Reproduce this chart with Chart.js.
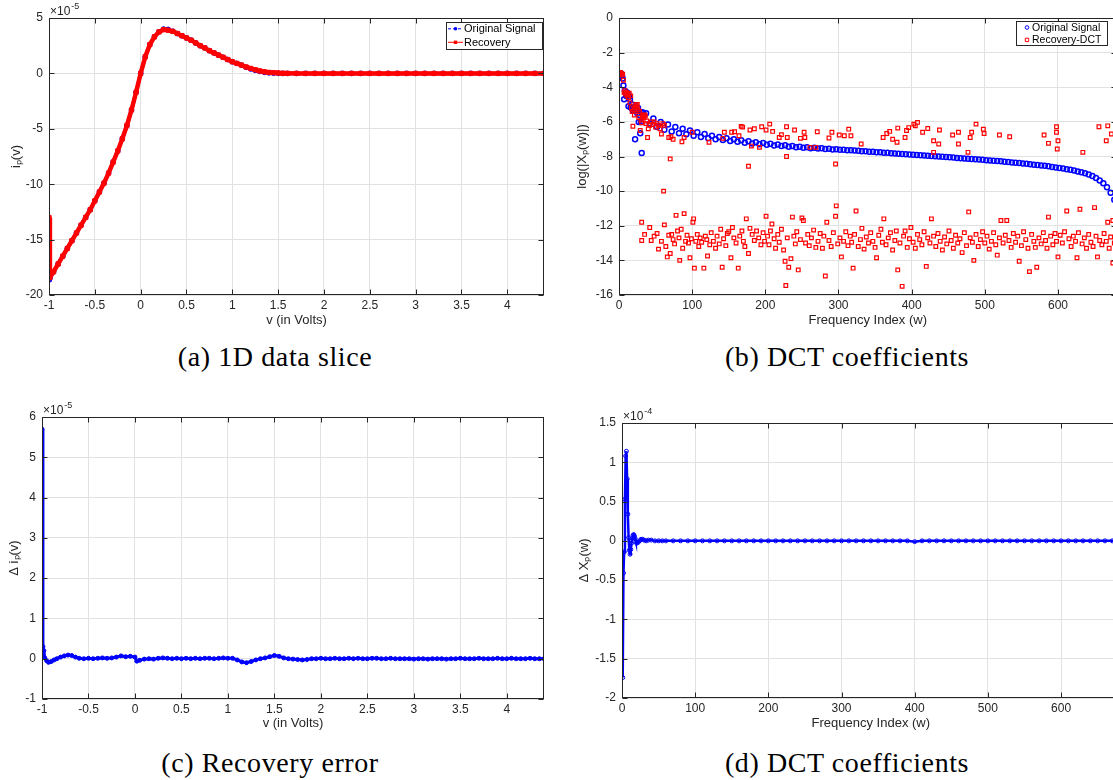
<!DOCTYPE html>
<html>
<head>
<meta charset="utf-8">
<script src="https://cdn.jsdelivr.net/npm/chart.js@4.4.0/dist/chart.umd.min.js"></script>
<style>
html, body { margin: 0; padding: 0; background: #fff; width: 1113px; height: 780px; overflow: hidden; }
canvas { position: absolute; }
.cap { position: absolute; font-family: "Liberation Serif", "Times New Roman", serif; font-size: 28px;
       letter-spacing: 0.6px; line-height: 28px; color: #000; white-space: nowrap; transform: translateX(-50%); }
</style>
</head>
<body>
<canvas id="pa" width="560" height="340" style="left:0;top:0;width:560px;height:340px"></canvas>
<canvas id="pb" width="570" height="340" style="left:560px;top:0;width:570px;height:340px"></canvas>
<canvas id="pc" width="560" height="340" style="left:0;top:400px;width:560px;height:340px"></canvas>
<canvas id="pd" width="570" height="340" style="left:560px;top:400px;width:570px;height:340px"></canvas>
<div class="cap" style="left:275px;top:343px">(a) 1D data slice</div>
<div class="cap" style="left:847px;top:343px">(b) DCT coefficients</div>
<div class="cap" style="left:270px;top:749px">(c) Recovery error</div>
<div class="cap" style="left:847px;top:749px">(d) DCT coefficients</div>
<script>
// (a) 1D data slice, current in units of 1e-5
const vA = [-1, -0.99, -0.95, -0.9, -0.85, -0.8, -0.75, -0.7, -0.65, -0.6,
  -0.55, -0.5, -0.45, -0.4, -0.35, -0.3, -0.25, -0.2, -0.15, -0.1,
  -0.05, 0, 0.05, 0.1, 0.15, 0.2, 0.25, 0.3, 0.35, 0.4,
  0.45, 0.5, 0.55, 0.6, 0.65, 0.7, 0.75, 0.8, 0.85, 0.9,
  0.95, 1, 1.05, 1.1, 1.15, 1.2, 1.25, 1.3, 1.35, 1.4,
  1.45, 1.5, 1.55, 1.6, 1.7, 1.8, 1.9, 2, 2.1, 2.2,
  2.3, 2.4, 2.5, 2.6, 2.7, 2.8, 2.9, 3, 3.1, 3.2,
  3.3, 3.4, 3.5, 3.6, 3.7, 3.8, 3.9, 4, 4.1, 4.2,
  4.3, 4.4];
const ipOrig = [-18.65, -18.5, -17.9, -17.2, -16.5, -15.8, -15.1, -14.4, -13.7, -13.0,
  -12.3, -11.5, -10.7, -9.9, -9.0, -8.0, -7.0, -5.9, -4.7, -3.3,
  -1.7, 0.0, 1.5, 2.6, 3.3, 3.75, 4.0, 3.97, 3.8, 3.6,
  3.4, 3.2, 3.0, 2.75, 2.5, 2.3, 2.05, 1.85, 1.65, 1.45,
  1.25, 1.05, 0.9, 0.75, 0.55, 0.4, 0.28, 0.18, 0.1, 0.05,
  0.02, 0.01, 0, 0, 0, 0, 0, 0, 0, 0,
  0, 0, 0, 0, 0, 0, 0, 0, 0, 0,
  0, 0, 0, 0, 0, 0, 0, 0, 0, 0,
  0, 0];
const ipRec = [-13.0, -18.4, -17.9, -17.2, -16.5, -15.8, -15.1, -14.4, -13.7, -13.0,
  -12.3, -11.5, -10.7, -9.9, -9.0, -8.0, -7.0, -5.9, -4.7, -3.3,
  -1.7, 0.0, 1.5, 2.6, 3.3, 3.75, 3.95, 3.9, 3.8, 3.6,
  3.4, 3.2, 3.0, 2.75, 2.5, 2.3, 2.05, 1.85, 1.65, 1.45,
  1.25, 1.05, 0.9, 0.75, 0.58, 0.45, 0.33, 0.22, 0.14, 0.09,
  0.06, 0.04, 0.02, 0.01, 0, 0, 0, 0, 0, 0,
  0, 0, 0, 0, 0, 0, 0, 0, 0, 0,
  0, 0, 0, 0, 0, 0, 0, 0, 0, 0,
  0, 0];

// (b) DCT coefficients, log magnitude
const wOrig = [1, 2, 3, 4, 5, 6, 7, 8, 9, 10,
  11, 12, 13, 14, 15, 16, 17, 18, 19, 20,
  21, 22, 23, 24, 25, 26, 27, 28, 29, 30,
  31, 32, 33, 34,
  37, 42, 47, 52, 57, 62, 67, 72, 77, 82,
  87, 92, 97, 102, 107, 112, 117, 122, 127, 132,
  137, 142, 147, 152, 157, 162, 167, 172, 177, 182,
  187, 192, 197, 202, 207, 212, 217, 222, 227, 232,
  237, 242, 247, 252, 257, 262, 267, 272, 277, 282,
  287, 292, 297, 302, 307, 312, 317, 322, 327, 332,
  337, 342, 347, 352, 357, 362, 367, 372, 377, 382,
  387, 392, 397, 402, 407, 412, 417, 422, 427, 432,
  437, 442, 447, 452, 457, 462, 467, 472, 477, 482,
  487, 492, 497, 502, 507, 512, 517, 522, 527, 532,
  537, 542, 547, 552, 557, 562, 567, 572, 577, 582,
  587, 592, 597, 602, 607, 612, 617, 622, 627, 632,
  637, 642, 647, 652, 657, 662, 667, 672, 677];
const logOrig = [-3.4, -3.25, -3.2, -3.3, -3.5, -3.9, -4.7, -4.2, -4.3, -4.5,
  -4.3, -4.4, -5.1, -4.55, -4.7, -5.15, -5.2, -5.0, -5.35, -5.25,
  -5.15, -7.0, -5.1, -5.3, -5.5, -5.2, -6.0, -5.6, -6.65, -6.0,
  -7.8, -5.45, -5.5, -5.6,
  -5.5, -6.1, -5.8, -6.3, -6.0, -6.45, -6.15, -6.55, -6.3, -6.65,
  -6.4, -6.72, -6.5, -6.8, -6.6, -6.87, -6.7, -6.95, -6.8, -7.0,
  -6.87, -7.05, -6.95, -7.1, -7.0, -7.15, -7.06, -7.2, -7.12, -7.25,
  -7.17, -7.29, -7.22, -7.32, -7.27, -7.36, -7.31, -7.4, -7.35, -7.43,
  -7.39, -7.46, -7.43, -7.49, -7.46, -7.52, -7.49, -7.54, -7.52, -7.57,
  -7.55, -7.59, -7.58, -7.61, -7.61, -7.64, -7.64, -7.66, -7.67, -7.69,
  -7.7, -7.72, -7.73, -7.75, -7.76, -7.78, -7.79, -7.81, -7.82, -7.84,
  -7.85, -7.87, -7.88, -7.9, -7.91, -7.93, -7.94, -7.96, -7.97, -7.99,
  -8.0, -8.02, -8.03, -8.05, -8.06, -8.08, -8.1, -8.11, -8.13, -8.14,
  -8.16, -8.18, -8.19, -8.21, -8.23, -8.25, -8.26, -8.28, -8.3, -8.32,
  -8.34, -8.36, -8.38, -8.4, -8.42, -8.45, -8.47, -8.49, -8.52, -8.54,
  -8.57, -8.6, -8.63, -8.66, -8.69, -8.73, -8.77, -8.81, -8.86, -8.91,
  -8.97, -9.04, -9.13, -9.24, -9.38, -9.55, -9.78, -10.1, -10.5];

// recovered coefficients: large ones (near the original) and the noise floor
const recHiW = [1, 2, 3, 4, 5, 6, 7, 8, 9, 10,
  11, 12, 13, 14, 15, 16, 17, 18, 19, 20,
  21, 22, 23, 24, 25, 26, 27, 28, 29, 30,
  31, 32, 33, 34, 35, 36, 37, 38, 39, 40,
  42, 44, 46, 48, 50, 52, 54, 56, 58, 60,
  61, 62, 68, 71, 74, 86, 89, 100, 70, 123,
  142, 144, 154, 158, 164, 167, 169, 179, 181, 177,
  185, 192, 195, 201, 206, 210, 219, 222, 229, 229,
  230, 240, 248, 253, 254, 261, 271, 269, 287, 291,
  296, 301, 308, 314, 317, 331, 361, 366, 370, 374,
  380, 381, 391, 393, 396, 403, 405, 408, 415, 422,
  430, 430, 437, 438, 456, 464, 464, 477, 480, 482,
  488, 498, 499, 520, 534, 581, 587, 598, 598, 599,
  600, 634, 656, 666, 668, 673];
const recHiV = [-3.2, -3.15, -3.2, -3.3, -3.25, -3.6, -4.3, -4.2, -4.4, -4.3,
  -4.5, -4.4, -4.6, -4.35, -4.9, -4.5, -5.2, -5.4, -6.25, -5.3,
  -5.6, -5.15, -5.0, -5.1, -5.0, -5.3, -5.75, -5.4, -6.5, -5.9,
  -6.05, -5.7, -5.6, -5.75, -5.6, -5.65, -6.1, -5.95, -6.9, -6.4,
  -6.2, -6.0, -6.15, -6.0, -6.3, -6.1, -6.2, -6.4, -6.7, -6.1,
  -10.0, -6.2, -6.9, -6.86, -7.0, -7.15, -6.9, -6.6, -8.14, -7.18,
  -6.95, -6.6, -6.6, -6.57, -6.8, -6.26, -6.3, -6.47, -7.4, -8.56,
  -6.4, -7.47, -6.28, -6.47, -6.13, -6.55, -6.9, -6.74, -6.28, -8.0,
  -6.9, -6.47, -6.95, -6.6, -6.9, -7.47, -6.57, -7.47, -6.93, -6.6,
  -8.43, -6.76, -6.8, -6.42, -6.8, -7.28, -6.9, -6.67, -6.55, -7.0,
  -7.18, -6.36, -6.9, -6.5, -6.33, -6.13, -6.23, -6.03, -6.6, -6.38,
  -7.09, -7.76, -7.28, -6.47, -6.76, -6.6, -7.28, -7.76, -6.9, -6.6,
  -6.13, -6.42, -6.67, -6.76, -6.86, -6.76, -7.24, -6.28, -6.6, -7.57,
  -7.09, -7.76, -6.28, -7.09, -6.23, -6.7];
const recLoW = [31, 31, 35, 42, 44, 48, 52, 54, 58, 62,
  64, 66, 68, 70, 72, 74, 76, 78, 80, 82,
  83, 85, 87, 89, 91, 93, 95, 97, 99, 101,
  102, 103, 105, 107, 109, 111, 113, 116, 118, 120,
  121, 124, 126, 129, 132, 134, 137, 139, 141, 143,
  146, 148, 150, 153, 155, 157, 160, 163, 165, 168,
  170, 172, 174, 177, 179, 182, 185, 188, 191, 194,
  197, 199, 201, 203, 205, 207, 209, 212, 214, 217,
  219, 222, 225, 227, 228, 230, 232, 235, 237, 239,
  241, 243, 245, 248, 250, 252, 255, 258, 260, 263,
  266, 269, 272, 275, 278, 280, 282, 284, 287, 290,
  293, 296, 297, 299, 302, 304, 307, 310, 313, 316,
  318, 320, 322, 324, 327, 330, 332, 335, 338, 341,
  344, 347, 350, 352, 355, 358, 360, 362, 365, 368,
  371, 374, 377, 379, 381, 384, 387, 389, 391, 394,
  397, 399, 402, 405, 408, 411, 414, 417, 420, 422,
  425, 427, 430, 433, 436, 439, 442, 445, 448, 451,
  454, 457, 460, 463, 466, 469, 472, 475, 478, 480,
  483, 485, 488, 491, 494, 497, 500, 503, 506, 509,
  512, 515, 517, 520, 522, 525, 528, 530, 533, 536,
  539, 542, 545, 547, 550, 553, 556, 559, 561, 564,
  567, 569, 571, 574, 577, 580, 583, 585, 587, 590,
  593, 596, 598, 600, 603, 606, 609, 612, 615, 618,
  621, 624, 626, 628, 630, 633, 636, 639, 642, 645,
  648, 650, 652, 654, 657, 660, 663, 666, 668, 670,
  672, 675, 675, 677, 679];
const recLoV = [-11.8, -12.85, -12.5, -12.1, -12.85, -12.6, -12.45, -13.35, -12.9, -11.95,
  -13.2, -13.8, -12.55, -13.6, -12.5, -12.8, -13.05, -11.4, -12.3, -12.7,
  -14.0, -12.2, -13.3, -11.3, -12.9, -12.55, -13.0, -13.85, -12.75, -11.8,
  -11.6, -14.45, -12.9, -12.5, -13.2, -12.7, -12.95, -14.45, -12.6, -12.8,
  -13.75, -13.1, -12.4, -12.9, -13.3, -12.6, -13.05, -12.2, -14.4, -12.75,
  -13.15, -12.45, -12.35, -13.85, -12.1, -12.7, -13.0, -14.45, -12.6, -12.3,
  -12.9, -13.2, -11.6, -13.6, -12.15, -12.5, -12.85, -12.3, -12.7, -13.1,
  -12.4, -12.9, -11.45, -12.6, -13.1, -12.3, -11.9, -12.75, -13.3, -12.5,
  -12.95, -12.2, -13.4, -14.05, -15.45, -12.7, -14.4, -13.9, -11.5, -12.6,
  -13.05, -12.35, -14.55, -12.8, -11.55, -11.7, -13.0, -12.5, -13.15, -12.7,
  -12.25, -13.25, -12.9, -12.45, -13.3, -12.6, -14.9, -11.8, -12.85, -13.2,
  -12.4, -11.45, -10.85, -13.05, -12.7, -13.8, -12.9, -12.35, -13.15, -12.6,
  -12.95, -14.45, -12.5, -11.15, -13.2, -12.8, -12.15, -13.35, -12.65, -13.0,
  -12.4, -12.9, -13.25, -13.85, -12.55, -12.2, -12.95, -11.6, -13.1, -12.7,
  -12.4, -13.4, -12.85, -12.3, -14.55, -13.0, -15.5, -12.6, -12.3, -13.25,
  -12.75, -12.1, -12.95, -13.3, -12.5, -12.8, -13.1, -12.35, -14.35, -12.7,
  -13.0, -11.6, -12.6, -13.2, -12.45, -12.9, -13.4, -12.65, -13.05, -12.3,
  -12.85, -13.3, -12.55, -13.0, -12.75, -13.55, -12.4, -13.15, -11.2, -12.7,
  -12.95, -14.0, -12.5, -13.2, -12.8, -12.35, -13.0, -12.6, -13.35, -12.9,
  -12.4, -13.1, -13.7, -12.7, -11.7, -13.0, -12.55, -11.7, -12.85, -13.25,
  -12.45, -12.95, -12.6, -14.05, -13.15, -12.35, -12.8, -13.3, -14.65, -12.5,
  -12.9, -13.25, -14.4, -12.7, -13.05, -12.4, -12.85, -13.3, -11.5, -12.6,
  -13.1, -12.45, -12.9, -13.8, -12.55, -13.0, -12.35, -11.15, -12.75, -13.2,
  -12.6, -12.9, -13.85, -12.4, -11.05, -13.05, -12.7, -13.3, -12.5, -12.95,
  -13.2, -10.95, -12.6, -13.8, -12.85, -13.1, -12.45, -12.9, -11.8, -13.3,
  -12.65, -14.15, -11.7, -13.0, -12.5];

// (c) recovery error, units of 1e-5
const vC = [-1, -0.99, -0.98, -0.97, -0.95, -0.93, -0.9, -0.87, -0.84, -0.8,
  -0.76, -0.72, -0.68, -0.64, -0.6, -0.55, -0.5, -0.45, -0.4, -0.35,
  -0.3, -0.25, -0.2, -0.15, -0.1, -0.05, 0, 0.02, 0.05, 0.1,
  0.15, 0.2, 0.25, 0.3, 0.35, 0.4, 0.45, 0.5, 0.55, 0.6,
  0.65, 0.7, 0.75, 0.8, 0.85, 0.9, 0.95, 1, 1.05, 1.1,
  1.15, 1.2, 1.25, 1.3, 1.35, 1.4, 1.45, 1.5, 1.55, 1.6,
  1.65, 1.7, 1.75, 1.8, 1.85, 1.9, 1.95, 2, 2.05, 2.1,
  2.15, 2.2, 2.25, 2.3, 2.35, 2.4, 2.45, 2.5, 2.55, 2.6,
  2.65, 2.7, 2.75, 2.8, 2.85, 2.9, 2.95, 3, 3.05, 3.1,
  3.15, 3.2, 3.25, 3.3, 3.35, 3.4, 3.45, 3.5, 3.55, 3.6,
  3.65, 3.7, 3.75, 3.8, 3.85, 3.9, 3.95, 4, 4.05, 4.1,
  4.15, 4.2, 4.25, 4.3, 4.35, 4.4];
const dIp = [5.7, 0.3, 0.2, 0.02, -0.05, -0.09, -0.07, -0.03, 0.0, 0.04,
  0.07, 0.09, 0.08, 0.04, 0.01, 0.0, 0.01, 0.0, 0.01, 0.02,
  0.01, 0.02, 0.04, 0.07, 0.05, 0.06, 0.04, -0.06, -0.04, -0.01,
  0.0, -0.01, 0.01, 0.02, 0.01, 0.0, 0.01, 0.0, 0.01, 0.0,
  0.01, 0.0, 0.01, 0.01, 0.0, 0.01, 0.02, 0.01, 0.01, -0.03,
  -0.08, -0.1, -0.07, -0.03, 0.0, 0.02, 0.05, 0.08, 0.06, 0.02,
  0.0, -0.01, -0.02, -0.03, -0.02, 0.0, 0.0, 0.01, 0.0, 0.0,
  0.01, 0.0, 0.0, 0.01, 0.0, 0.01, 0.0, 0.0, 0.01, 0.01,
  0.0, 0.0, 0.01, 0.0, 0.0, 0.0, 0.0, -0.01, 0.0, 0.0,
  -0.01, 0.0, 0.0, 0.0, -0.01, 0.0, 0.0, 0.01, 0.0, 0.0,
  0.0, 0.01, 0.0, 0.0, 0.0, 0.01, 0.0, 0.0, 0.01, 0.0,
  0.0, 0.0, 0.01, 0.0, 0.0, 0.0];

// (d) DCT coefficient error, units of 1e-4
const wD = [1, 2, 3, 4, 5, 6, 7, 8, 9, 10,
  11, 12, 13, 14, 15, 16, 17, 18, 19, 20,
  22, 24, 26, 28, 30, 33, 36, 40, 45, 50,
  55, 60, 70, 80, 90, 100, 110, 120, 130, 140,
  150, 160, 170, 180, 190, 200, 210, 220, 230, 240,
  250, 260, 270, 280, 290, 300, 310, 320, 330, 340,
  350, 360, 370, 380, 390, 400, 410, 420, 430, 440,
  450, 460, 470, 480, 490, 500, 510, 520, 530, 540,
  550, 560, 570, 580, 590, 600, 610, 620, 630, 640,
  650, 660, 670, 680];
const dX = [-1.74, -0.41, -0.14, 0.53, 1.08, 1.14, 0.79, 0.34, 0.04, -0.12,
  -0.17, -0.11, -0.03, 0.03, 0.07, 0.08, 0.06, 0.03, -0.01, -0.03,
  -0.02, 0.0, 0.02, 0.02, 0.01, 0.0, 0.01, 0.01, 0.0, 0.0,
  0.0, 0.0, 0.0, 0.0, 0.0, 0.0, 0.0, 0.0, 0.0, 0.0,
  0.0, 0.0, 0.0, 0.0, 0.0, 0.0, 0.0, 0.0, 0.0, 0.0,
  0.0, 0.0, 0.0, 0.0, 0.0, 0.0, 0.0, 0.0, 0.0, 0.0,
  0.0, 0.0, 0.0, 0.0, 0.0, -0.01, 0.0, 0.0, 0.0, 0.0,
  0.0, 0.0, 0.0, 0.0, 0.0, 0.0, 0.0, 0.0, 0.0, 0.0,
  0.0, 0.0, 0.0, 0.0, 0.0, 0.0, 0.0, 0.0, 0.0, 0.0,
  0.0, 0.0, 0.0, 0.0];

const FONT = '"Liberation Sans", Arial, Helvetica, sans-serif';
const INK = '#262626';
const BLUE = '#0000ff';
const RED = '#ff0000';

function xy(xs, ys) {
  return xs.map((x, i) => ({ x: x, y: ys[i] }));
}

function fmt(v) {
  return String(+v.toFixed(3));
}

// matlab-ish box: frame, inward ticks, exponent label and legend
const matBox = {
  id: 'matBox',
  afterDraw(chart, args, opts) {
    const ctx = chart.ctx;
    const a = chart.chartArea;
    const xs = chart.scales.x, ys = chart.scales.y;
    const L = Math.round(a.left) + 0.5, R = Math.round(a.right) - 0.5;
    const T = Math.round(a.top) + 0.5, B = Math.round(a.bottom) - 0.5;
    ctx.save();
    ctx.strokeStyle = INK;
    ctx.lineWidth = 1;
    ctx.strokeRect(L, T, R - L, B - T);
    ctx.beginPath();
    xs.ticks.forEach(t => {
      const px = Math.round(xs.getPixelForValue(t.value)) + 0.5;
      ctx.moveTo(px, B); ctx.lineTo(px, B - 5);
      ctx.moveTo(px, T); ctx.lineTo(px, T + 5);
    });
    ys.ticks.forEach(t => {
      const py = Math.round(ys.getPixelForValue(t.value)) + 0.5;
      ctx.moveTo(L, py); ctx.lineTo(L + 5, py);
      ctx.moveTo(R, py); ctx.lineTo(R - 5, py);
    });
    ctx.stroke();

    if (opts.exp) {
      ctx.fillStyle = INK;
      ctx.textBaseline = 'alphabetic';
      ctx.font = '12px ' + FONT;
      const x0 = a.left + 1;
      ctx.fillText('\u00d710', x0, a.top - 3);
      const w = ctx.measureText('\u00d710').width;
      ctx.font = '9px ' + FONT;
      ctx.fillText(opts.exp, x0 + w + 1, a.top - 9);
    }

    const lg = opts.legend;
    if (lg) {
      ctx.fillStyle = '#fff';
      ctx.fillRect(lg.x, lg.y, lg.w, lg.h);
      ctx.strokeStyle = INK;
      ctx.strokeRect(lg.x + 0.5, lg.y + 0.5, lg.w, lg.h);
      ctx.font = lg.font + 'px ' + FONT;
      ctx.textBaseline = 'middle';
      lg.rows.forEach((r, i) => {
        const ds = chart.data.datasets[r.ds];
        const cy = lg.y + lg.first + i * lg.gap;
        const col = ds.borderColor;
        ctx.strokeStyle = col;
        ctx.fillStyle = col;
        if (r.line) {
          ctx.lineWidth = 1;
          ctx.setLineDash(r.dash || []);
          ctx.beginPath();
          ctx.moveTo(lg.x + lg.l0, cy);
          ctx.lineTo(lg.x + lg.l1, cy);
          ctx.stroke();
          ctx.setLineDash([]);
        }
        const mx = lg.x + lg.mx;
        ctx.beginPath();
        if (ds.pointStyle === 'rect') {
          ctx.rect(mx - 1.7, cy - 1.7, 3.4, 3.4);
        } else {
          ctx.arc(mx, cy, 1.8, 0, Math.PI * 2);
        }
        if (r.filled) ctx.fill(); else { ctx.lineWidth = 1; ctx.stroke(); }
        ctx.fillStyle = '#000';
        ctx.fillText(r.label, lg.x + lg.tx, cy + 0.5);
      });
    }
    ctx.restore();
  }
};

function panel(id, o) {
  return new Chart(document.getElementById(id), {
    type: 'scatter',
    data: { datasets: o.datasets },
    options: {
      responsive: false,
      animation: false,
      devicePixelRatio: 1,
      layout: { padding: o.pad },
      plugins: {
        legend: { display: false },
        tooltip: { enabled: false },
        matBox: { exp: o.exp, legend: o.legend }
      },
      scales: {
        x: {
          type: 'linear', min: o.x[0], max: o.x[1],
          afterFit: s => { s.height = o.xH; },
          border: { display: false },
          grid: { color: '#e2e2e2', drawTicks: false },
          ticks: { stepSize: o.x[2], includeBounds: false, autoSkip: false, maxRotation: 0,
                   padding: 3, color: INK, font: { family: FONT, size: 12 }, callback: fmt },
          title: { display: true, text: o.xTitle, color: INK, padding: 0,
                   font: { family: FONT, size: 13 } }
        },
        y: {
          type: 'linear', min: o.y[0], max: o.y[1],
          afterFit: s => { s.width = o.yW; },
          border: { display: false },
          grid: { color: '#e2e2e2', drawTicks: false },
          ticks: { stepSize: o.y[2], includeBounds: false, autoSkip: false,
                   padding: 6, color: INK, font: { family: FONT, size: 12 }, callback: fmt },
          title: { display: true, text: o.yTitle, color: INK, padding: 0,
                   font: { family: FONT, size: 13 } }
        }
      }
    },
    plugins: [matBox]
  });
}

panel('pa', {
  pad: { left: 9, top: 18, right: 16, bottom: 12 }, yW: 40, xH: 33,
  x: [-1, 4.4, 0.5], y: [-20, 5, 5],
  xTitle: 'v (in Volts)', yTitle: 'i\u209a(v)', exp: '-5',
  datasets: [
    { label: 'Original Signal', data: xy(vA, ipOrig), showLine: true, order: 1,
      borderColor: BLUE, backgroundColor: BLUE, borderWidth: 3.5,
      pointStyle: 'circle', pointRadius: 2.4, pointBorderWidth: 1 },
    { label: 'Recovery', data: xy(vA, ipRec), showLine: true, order: 0,
      borderColor: RED, backgroundColor: RED, borderWidth: 4.5,
      pointStyle: 'rect', pointRadius: 3, pointBorderWidth: 1 }
  ],
  legend: { x: 446, y: 22, w: 96, h: 27, font: 11, first: 6.8, gap: 13.5, l0: 2, l1: 17, mx: 9.5, tx: 18,
    rows: [ { ds: 0, label: 'Original Signal', line: true, dash: [3, 2], filled: true },
            { ds: 1, label: 'Recovery', line: true, filled: true } ] }
});

panel('pb', {
  pad: { left: 15, top: 18, right: 13.5, bottom: 12 }, yW: 44, xH: 33,
  x: [0, 680, 100], y: [-16, 0, 2],
  xTitle: 'Frequency Index (w)', yTitle: 'log(|X\u209a(w)|)',
  datasets: [
    { label: 'Original Signal', data: xy(wOrig, logOrig), showLine: false, order: 1,
      borderColor: BLUE, backgroundColor: 'rgba(255,255,255,0)',
      pointStyle: 'circle', pointRadius: 2.5, pointBorderWidth: 1.5 },
    { label: 'Recovery-DCT', data: xy(recHiW, recHiV).concat(xy(recLoW, recLoV)), showLine: false, order: 0,
      borderColor: RED, backgroundColor: 'rgba(255,255,255,0)',
      pointStyle: 'rect', pointRadius: 2.6, pointBorderWidth: 1.2 }
  ],
  legend: { x: 456, y: 21, w: 91, h: 24, font: 10.5, first: 6.5, gap: 12.4, l0: 0, l1: 0, mx: 11, tx: 16,
    rows: [ { ds: 0, label: 'Original Signal', filled: false },
            { ds: 1, label: 'Recovery-DCT', filled: false } ] }
});

panel('pc', {
  pad: { left: 7, top: 17, right: 16, bottom: 9 }, yW: 35, xH: 32,
  x: [-1, 4.4, 0.5], y: [-1, 6, 1],
  xTitle: 'v (in Volts)', yTitle: '\u0394 i\u209a(v)', exp: '-5',
  datasets: [
    { label: 'error', data: xy(vC, dIp), showLine: true,
      borderColor: BLUE, backgroundColor: BLUE, borderWidth: 3,
      pointStyle: 'circle', pointRadius: 2, pointBorderWidth: 1 }
  ]
});

panel('pd', {
  pad: { left: 17, top: 23, right: 10.4, bottom: 9 }, yW: 45, xH: 33,
  x: [0, 680, 100], y: [-2, 1.5, 0.5],
  xTitle: 'Frequency Index (w)', yTitle: '\u0394 X\u209a(w)', exp: '-4',
  datasets: [
    { label: 'error', data: xy(wD, dX), showLine: true,
      borderColor: BLUE, backgroundColor: 'rgba(255,255,255,0)', borderWidth: 2.5,
      pointStyle: 'circle', pointRadius: 2, pointBorderWidth: 1 }
  ]
});
</script>
</body>
</html>
